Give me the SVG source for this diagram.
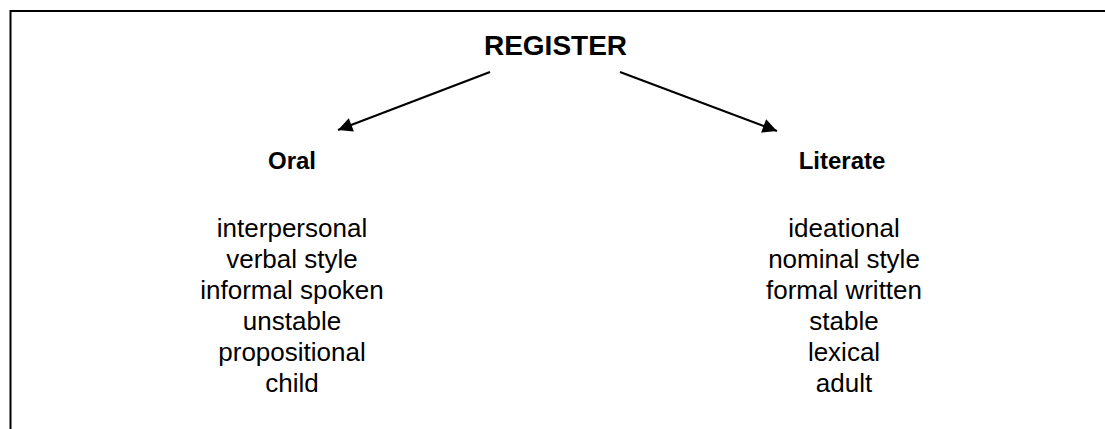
<svg xmlns="http://www.w3.org/2000/svg" width="1105" height="429" viewBox="0 0 1105 429">
  <style>
    text { font-family: "Liberation Sans", Arial, sans-serif; fill: #000; text-anchor: middle; }
    .title { font-size: 28px; font-weight: bold; }
    .head { font-size: 24px; font-weight: bold; }
    .item { font-size: 26px; }
    .conn { stroke: #000; stroke-width: 2.2; fill: none; }
  </style>
  <defs>
    <marker id="arrow" viewBox="0 0 10 10" refX="10" refY="5" markerWidth="8" markerHeight="6.5" markerUnits="strokeWidth" orient="auto">
      <path d="M0,0 L10,5 L0,10 Z" fill="#000"/>
    </marker>
  </defs>
  <rect x="10.5" y="11" width="1110" height="440" fill="#fff" stroke="#000" stroke-width="2"/>
  <g id="register">
    <text class="title" x="555.5" y="55">REGISTER</text>
  </g>
  <g id="connectors">
    <line class="conn" x1="490" y1="72" x2="338" y2="130" marker-end="url(#arrow)"/>
    <line class="conn" x1="620" y1="72" x2="777" y2="131" marker-end="url(#arrow)"/>
  </g>
  <g id="oral">
    <text class="head" x="292" y="169">Oral</text>
    <text class="item" x="292" y="237">interpersonal</text>
    <text class="item" x="292" y="268">verbal style</text>
    <text class="item" x="292" y="299">informal spoken</text>
    <text class="item" x="292" y="330">unstable</text>
    <text class="item" x="292" y="361">propositional</text>
    <text class="item" x="292" y="392">child</text>
  </g>
  <g id="literate">
    <text class="head" x="842" y="169">Literate</text>
    <text class="item" x="844" y="237">ideational</text>
    <text class="item" x="844" y="268">nominal style</text>
    <text class="item" x="844" y="299">formal written</text>
    <text class="item" x="844" y="330">stable</text>
    <text class="item" x="844" y="361">lexical</text>
    <text class="item" x="844" y="392">adult</text>
  </g>
</svg>
